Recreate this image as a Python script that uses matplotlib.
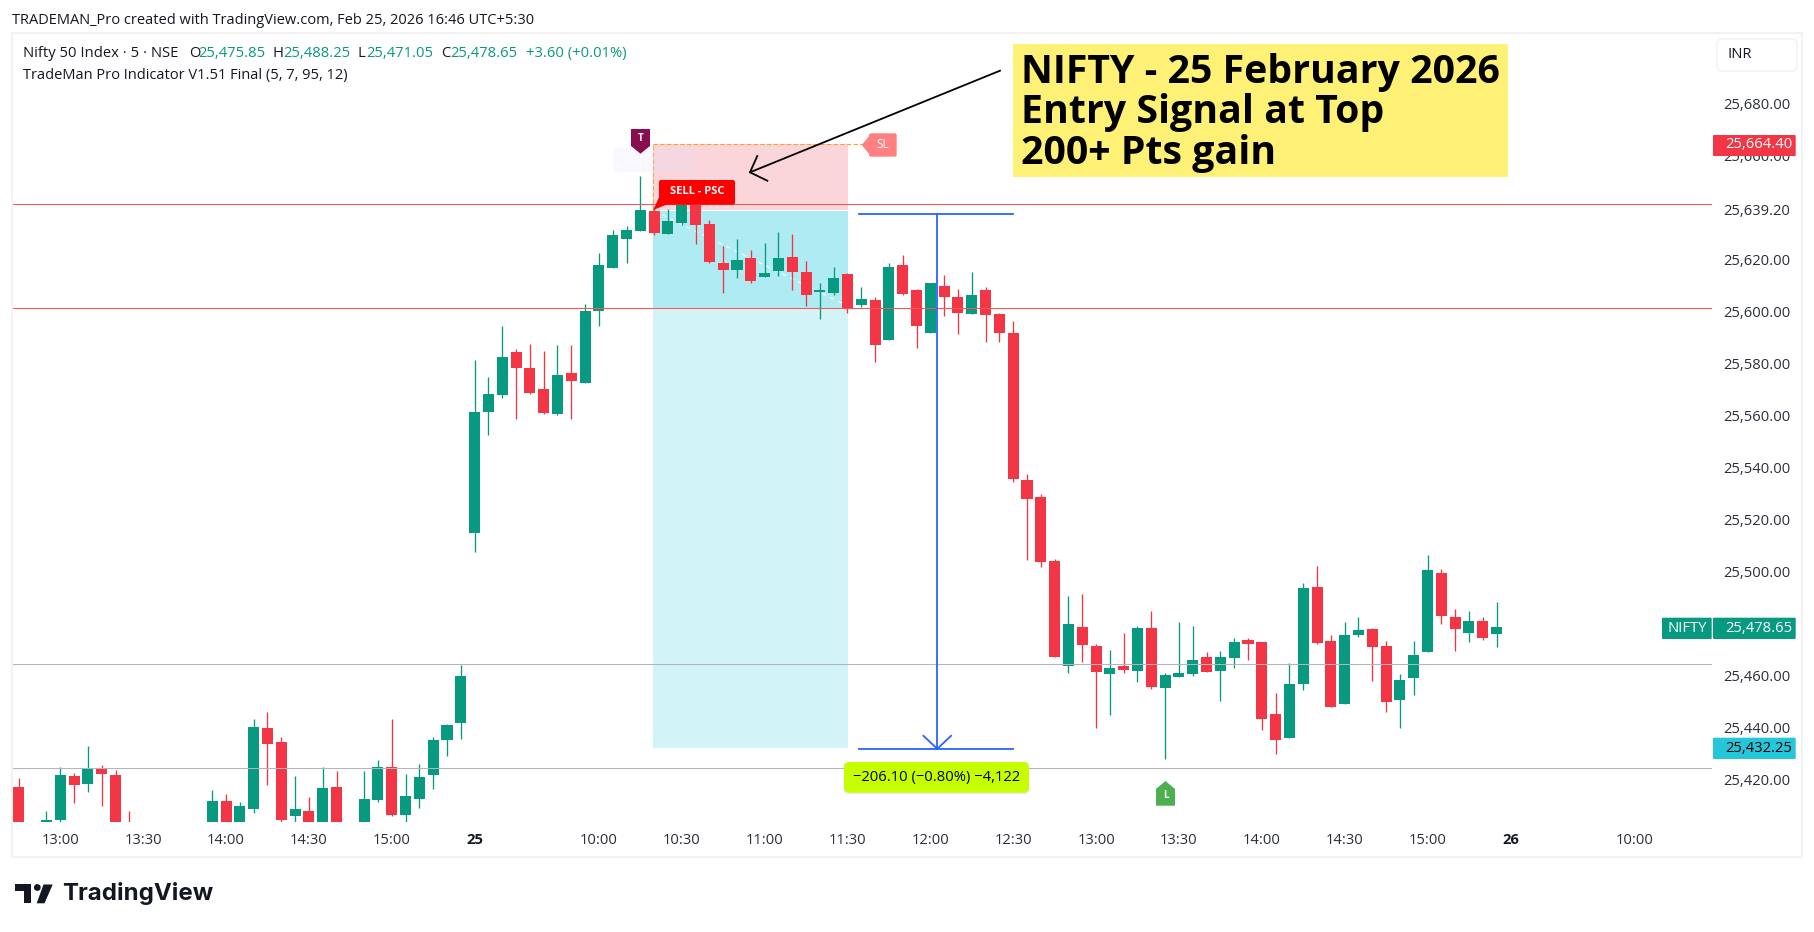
import numpy as np
import matplotlib
matplotlib.use("Agg")
import matplotlib.pyplot as plt
from matplotlib.patches import FancyBboxPatch, Polygon, Rectangle, Circle

plt.rcParams['font.family'] = ['Open Sans', 'DejaVu Sans']

nan = float('nan')

# 5 minute bars, bar 0 is 13:00 on the 24th, first row starts at bar -3
# nan = bar sits completely below the visible price range
bars = list(range(-3, 105))
opens = [25417.2, nan, 25403, 25404.4, 25421.4, 25418.3, 25424.0, 25421.8, 25402, nan,
         nan, nan, nan, nan, 25402, 25411.7, 25402, 25408.7, 25439.8, 25434.5,
         25406.0, 25407.9, 25402, 25417.2, nan, 25402, 25412.1, 25424.8, 25406.4, 25412.6,
         25421.8, 25435.2, 25441.8, 25514.8, 25561.4, 25567.9, 25584.4, 25578.3, 25570.2, 25560.6,
         25576.3, 25572.5, 25600.2, 25616.7, 25627.9, 25630.9, 25638.7, 25629.8, 25634.0, 25642.0,
         25633.7, 25618.7, 25616.0, 25620.6, 25613.2, 25615.6, 25621.0, 25615.2, 25607.5, 25607.1,
         25614.4, 25602.5, 25604.4, 25589.0, 25617.9, 25608.3, 25591.7, 25609.8, 25605.6, 25599.0,
         25608.3, 25599.0, 25591.7, 25535.2, 25528.7, 25504.0, 25463.7, 25478.7, 25471.3, 25460.6,
         25463.6, 25461.7, 25478.3, 25455.2, 25459.4, 25460.6, 25467.1, 25461.7, 25466.7, 25473.6,
         25472.9, 25445.2, 25435.9, 25456.7, 25494.0, 25473.3, 25449.0, 25475.6, 25477.9, 25471.3,
         25450.6, 25459.0, 25469.0, 25499.4, 25482.5, 25476.3, 25481.0, 25475.85]
highs = [25420.6, nan, 25407.9, 25424.7, 25422.6, 25432.9, 25425.6, 25423.6, 25407.9, nan,
         nan, nan, nan, nan, 25416.0, 25414.5, 25411.3, 25443.2, 25446.0, 25436.4,
         25421.4, 25413.3, 25424.7, 25423.2, nan, 25423.2, 25427.5, 25443.2, 25422.2, 25426.0,
         25436.4, 25441.4, 25464.0, 25581.4, 25574.8, 25594.5, 25585.6, 25587.5, 25584.8, 25587.1,
         25587.1, 25602.9, 25622.5, 25631.3, 25632.9, 25652.1, 25640.0, 25639.4, 25646.0, 25644.0,
         25635.2, 25625.2, 25627.9, 25623.6, 25626.3, 25630.6, 25629.8, 25619.4, 25611.0, 25617.1,
         25614.8, 25609.4, 25605.6, 25618.7, 25621.7, 25608.7, 25610.9, 25614.0, 25608.7, 25615.2,
         25609.4, 25599.4, 25596.3, 25537.5, 25529.8, 25504.8, 25490.6, 25491.3, 25472.1, 25469.8,
         25476.3, 25479.0, 25484.8, 25461.0, 25480.6, 25479.0, 25469.0, 25469.4, 25474.4, 25474.4,
         25472.9, 25453.3, 25464.8, 25495.6, 25502.1, 25475.6, 25480.6, 25482.5, 25478.3, 25473.3,
         25460.6, 25473.3, 25506.3, 25501.0, 25485.6, 25484.8, 25482.5, 25488.25]
lows = [25398, nan, 25402, 25403.6, 25410.9, 25415.2, 25409.9, 25398, 25396, nan,
        nan, nan, nan, nan, 25400, 25400, 25400, 25407.1, 25417.9, 25403.6,
        25402, 25400, 25400, 25400, nan, 25400, 25411.3, 25406.0, 25403.6, 25409.1,
        25416.4, 25429.2, 25435.6, 25507.5, 25552.5, 25566.7, 25558.6, 25568.3, 25560.6, 25560.0,
        25558.7, 25572.5, 25594.4, 25616.7, 25618.7, 25630.9, 25629.4, 25629.8, 25633.3, 25626.0,
        25618.7, 25607.1, 25612.9, 25611.0, 25613.2, 25613.7, 25608.3, 25602.1, 25597.1, 25606.3,
        25599.4, 25601.7, 25580.6, 25589.0, 25606.3, 25585.9, 25591.7, 25598.3, 25591.4, 25599.0,
        25588.3, 25588.3, 25534.4, 25504.4, 25501.7, 25467.1, 25461.0, 25465.2, 25439.8, 25444.8,
        25461.0, 25457.5, 25454.8, 25427.9, 25459.4, 25459.8, 25461.3, 25450.2, 25462.9, 25465.9,
        25439.0, 25429.8, 25435.9, 25454.4, 25472.1, 25447.9, 25449.0, 25474.8, 25457.9, 25446.0,
        25439.8, 25452.5, 25469.0, 25479.8, 25469.4, 25472.9, 25473.7, 25471.05]
closes = [25400, nan, 25404.4, 25421.8, 25417.9, 25424.0, 25422.2, 25400, 25398, nan,
          nan, nan, nan, nan, 25411.7, 25402, 25409.9, 25440.2, 25433.7, 25404.4,
          25408.7, 25402, 25416.8, 25402, nan, 25412.5, 25424.8, 25406.4, 25413.7, 25421.0,
          25435.2, 25441.0, 25459.8, 25561.4, 25568.3, 25582.5, 25578.3, 25568.7, 25561.0, 25575.6,
          25573.3, 25600.2, 25617.9, 25629.4, 25631.3, 25639.0, 25630.2, 25634.8, 25644.0, 25633.3,
          25619.0, 25616.0, 25619.8, 25611.7, 25614.8, 25620.6, 25615.2, 25606.3, 25608.3, 25612.9,
          25601.3, 25604.8, 25587.1, 25617.1, 25606.7, 25594.4, 25610.9, 25605.6, 25599.4, 25606.3,
          25598.6, 25591.7, 25535.6, 25527.9, 25503.7, 25467.1, 25479.8, 25471.7, 25461.3, 25462.9,
          25462.1, 25478.3, 25455.6, 25460.2, 25461.0, 25466.0, 25461.3, 25467.1, 25472.9, 25472.1,
          25443.3, 25435.2, 25456.7, 25493.6, 25472.5, 25447.9, 25475.6, 25477.5, 25470.9, 25449.8,
          25458.3, 25467.9, 25500.6, 25482.9, 25477.9, 25481.0, 25474.4, 25478.65]

price_ticks = [25420, 25440, 25460, 25500, 25520, 25540, 25560, 25580, 25600, 25620, 25639.2, 25660, 25680]
time_bars = [0, 6, 12, 18, 24, 30, 39, 45, 51, 57, 63, 69, 75, 81, 87, 93, 99, 105, 114]
time_labels = ['13:00', '13:30', '14:00', '14:30', '15:00', '25', '10:00', '10:30', '11:00', '11:30',
               '12:00', '12:30', '13:00', '13:30', '14:00', '14:30', '15:00', '26', '10:00']

red_lines = [25641.4, 25601.2]
grey_lines = [25464.3, 25424.3]
entry = 25639.2
stop = 25664.4
target = 25432.25
zone_start = 42.93
zone_end = 57.04

GREEN = '#089981'
RED = '#F23645'
TXT = '#131722'
AXT = '#2A2E39'
FS = 10.6

W, H = 1815, 932
fig = plt.figure(figsize=(W / 100, H / 100), dpi=100, facecolor='white')

# main pane, pixel box x 13-1712, y 34-822
ax = fig.add_axes([13 / W, 1 - 822 / H, (1712 - 13) / W, (822 - 34) / H])
ax.set_xlim(-3.4256, 119.6)
ax.set_ylim(25403.65, 25706.7)
for s in ax.spines.values():
    s.set_visible(False)
ax.yaxis.tick_right()
ax.set_yticks(price_ticks, ['{:,.2f}'.format(p) for p in price_ticks])
ax.set_xticks(time_bars, time_labels)
ax.tick_params(axis='both', length=0, labelsize=FS, labelcolor=AXT)
ax.tick_params(axis='y', pad=8)
ax.tick_params(axis='x', pad=8)
for lab in ax.get_xticklabels():
    if lab.get_text() in ('25', '26'):
        lab.set_fontweight('bold')
        lab.set_color(TXT)

# position tool zones
ax.fill_between([zone_start, zone_end], entry, stop, color='#FAD6DA', lw=0, zorder=1)
ax.fill_between([zone_start, zone_end], red_lines[1], entry - 0.7, color='#AFEBF2', lw=0, zorder=1)
ax.fill_between([zone_start, zone_end], target, red_lines[1], color='#D3F4F7', lw=0, zorder=1)
ax.plot([zone_start, 58.1], [stop, stop], color='#F7A233', lw=0.8, ls=(0, (4, 2)), zorder=2)
ax.plot([zone_start, zone_start], [entry, stop], color='#F7A233', lw=0.8, ls=(0, (4, 2)), zorder=2)
ax.plot([43.6, 56.6], [25637.1, 25603.2], color='white', lw=0.8, ls=(0, (4, 4)), zorder=2)

# candles
o = np.array(opens)
h = np.array(highs)
l = np.array(lows)
c = np.array(closes)
x = np.array(bars)
keep = ~np.isnan(o)
cols = np.where(c >= o, GREEN, RED)
ax.vlines(x[keep], l[keep], h[keep], colors=cols[keep], lw=0.95, zorder=3)
ax.bar(x[keep], np.abs(c - o)[keep], bottom=np.minimum(o, c)[keep], width=0.8, color=cols[keep], lw=0, zorder=4)

# horizontal levels run over the candles
for p in red_lines:
    ax.axhline(p, color='#FF5252', lw=0.75, zorder=5)
for p in grey_lines:
    ax.axhline(p, color='#B2B5BE', lw=0.75, zorder=5)

# price range measure
BLUE = '#2962FF'
ax.plot([57.85, 69], [25637.6, 25637.6], color=BLUE, lw=1.3, zorder=6)
ax.plot([57.85, 69], [25431.8, 25431.8], color=BLUE, lw=1.3, zorder=6)
ax.plot([63.5, 63.5], [25637.6, 25431.8], color=BLUE, lw=1.3, zorder=6)
ax.plot([62.5, 63.5, 64.5], [25436.8, 25431.8, 25436.8], color=BLUE, lw=1.3, zorder=6)

# everything on top of the pane, pixel coordinates
top = fig.add_axes([0, 0, 1, 1], facecolor='none')
top.set_xlim(0, W)
top.set_ylim(H, 0)
top.axis('off')
top.add_patch(Rectangle((12.5, 33), 1789.5, 824, fill=False, ec='#F2F2F2', lw=1.5))


def box(x0, y0, x1, y1, color, r=2, ec='none', lw=0, z=3):
    top.add_patch(FancyBboxPatch((x0, y0), x1 - x0, y1 - y0, boxstyle='round,pad=0,rounding_size=%s' % r,
                                 fc=color, ec=ec, lw=lw, zorder=z))


def txt(x0, y0, s, color=TXT, size=FS, ha='left', weight='normal', family=None, z=5, va='center'):
    return top.text(x0, y0, s, color=color, fontsize=size, ha=ha, va=va, fontweight=weight,
                    family=family, zorder=z)


# header
txt(12, 20, 'TRADEMAN_Pro created with TradingView.com, Feb 25, 2026 16:46 UTC+5:30', size=10.5)
txt(23, 53.5, 'Nifty 50 Index · 5 · NSE')
txt(189, 53.5, 'O')
txt(198, 53.5, '25,475.85', GREEN)
txt(273, 53.5, 'H')
txt(283, 53.5, '25,488.25', GREEN)
txt(358, 53.5, 'L')
txt(366, 53.5, '25,471.05', GREEN)
txt(441, 53.5, 'C')
txt(450, 53.5, '25,478.65', GREEN)
txt(526, 53.5, '+3.60 (+0.01%)', GREEN)
txt(23, 75, 'TradeMan Pro Indicator V1.51 Final (5, 7, 95, 12)', size=10.5)

# currency button
box(1717, 39, 1797, 71, 'white', r=5, ec='#F0F3FA', lw=1.2)
txt(1728, 54.5, 'INR')

# yellow note
top.add_patch(Rectangle((1013, 44), 495, 132.7, fc='#FFF176', lw=0, zorder=3))
note_lines = ['NIFTY - 25 February 2026', 'Entry Signal at Top', '200+ Pts gain']
for yy, s in zip([83.3, 123, 164], note_lines):
    txt(1021, yy, s, color='black', size=28.3, weight='bold', va='baseline')

# black arrow to the zone
top.plot([1000, 750], [70.7, 172.3], color='black', lw=1.3, zorder=4)
top.plot([757.3, 750, 767.3], [156, 172.3, 180.7], color='black', lw=1.3, zorder=4)

# pale tooltip behind the T flag
box(613.3, 147.7, 694, 172, '#E6DFFF', r=3, z=2)
top.patches[-1].set_alpha(0.22)

# T flag
top.add_patch(Polygon([(631, 129), (650, 129), (650, 146), (640.5, 153.7), (631, 146)], fc='#880E4F', lw=0, zorder=4))
txt(640.5, 138.5, 'T', 'white', 7, 'center', 'bold')

# SELL label
top.add_patch(Polygon([(653.3, 210), (660, 195), (668, 204)], fc='#FF0000', lw=0, zorder=4))
box(659, 180, 735, 204.7, '#FF0000', r=2, z=4)
txt(697, 192, 'SELL - PSC', 'white', 8, 'center', 'bold')

# SL tag
top.add_patch(Polygon([(861.7, 145), (870, 135), (870, 155)], fc='#FF8080', lw=0, zorder=4))
box(869, 133.3, 896.7, 156.7, '#FF8080', r=2, z=4)
txt(883, 145, 'SL', 'white', 8.5, 'center')

# L flag
top.add_patch(Polygon([(1165.4, 781), (1175, 789), (1175, 805.7), (1156, 805.7), (1156, 789)], fc='#4CAF50', lw=0, zorder=4))
txt(1165.4, 796, 'L', 'white', 7, 'center', 'bold')

# price scale tags
box(1713, 135, 1795.7, 156, RED, r=1)
txt(1758.5, 145, '25,664.40', 'white', ha='center')
box(1713, 617.7, 1795.7, 639, GREEN, r=1)
txt(1758.5, 628, '25,478.65', 'white', ha='center')
box(1662, 617.7, 1711.7, 639, GREEN, r=1)
txt(1687, 628, 'NIFTY', 'white', ha='center')
box(1713, 737.7, 1795.7, 759, '#26C6DA', r=1)
txt(1758.5, 748, '25,432.25', 'black', ha='center')

# measure label
box(844, 763, 1029, 794, '#000000', r=5, z=3)
top.patches[-1].set_alpha(0.08)
box(844, 762, 1029, 792.7, '#C6FF00', r=5, z=4)
txt(936.5, 777, '\u2212206.10 (\u22120.80%) \u22124,122', 'black', ha='center')

# TradingView logo
LOGO = '#131722'
top.add_patch(Polygon([(15, 884), (30.7, 884), (30.7, 903.3), (24, 903.3), (24, 890.7), (15, 890.7)], fc=LOGO, lw=0))
top.add_patch(Circle((37.3, 887.5), 3.4, fc=LOGO, lw=0))
top.add_patch(Polygon([(43.5, 884.5), (52.7, 884.5), (44.5, 903.3), (36.7, 903.3)], fc=LOGO, lw=0))
txt(62, 893.5, 'TradingView', LOGO, 17.3, weight='bold', family='Inter')

fig.savefig('out.png', dpi=100)
